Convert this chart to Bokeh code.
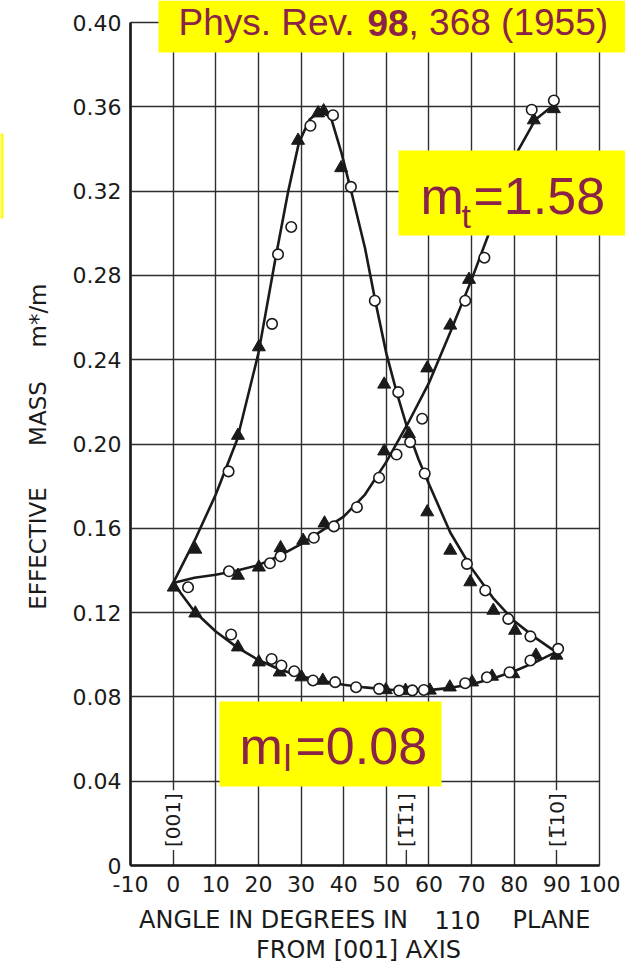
import math
from bokeh.plotting import figure
from bokeh.models import FixedTicker, Label, BoxAnnotation, LinearAxis, Grid, Range1d
from bokeh.embed import file_html
from bokeh.resources import INLINE

# ---------------- data ----------------
x_ticks = [-10, 0, 10, 20, 30, 40, 50, 60, 70, 80, 90, 100]
x_tick_labels = ["-10", "0", "10", "20", "30", "40", "50", "60", "70", "80", "90", "100"]
y_ticks = [0, 0.04, 0.08, 0.12, 0.16, 0.20, 0.24, 0.28, 0.32, 0.36, 0.40]
y_tick_labels = ["0", "0.04", "0.08", "0.12", "0.16", "0.20", "0.24", "0.28", "0.32", "0.36", "0.40"]

# smooth curves drawn through the measurements
peak_x = [0, 5, 10, 15, 20, 24, 27, 29.5, 32, 34.5, 37, 39.5, 42, 45, 47.5, 50, 52.5,
          55, 57.5, 60, 65, 70, 75, 80, 85, 90]
peak_y = [0.134, 0.154, 0.176, 0.202, 0.243, 0.288, 0.320, 0.343, 0.354, 0.358, 0.355,
          0.338, 0.318, 0.293, 0.267, 0.243, 0.224, 0.207, 0.193, 0.181, 0.158, 0.141,
          0.127, 0.116, 0.108, 0.101]

rise_x = [0, 5, 10, 15, 20, 25, 30, 35, 40, 45, 50, 55, 60, 65, 70, 75, 80, 85, 90]
rise_y = [0.134, 0.1365, 0.138, 0.140, 0.1425, 0.147, 0.1525, 0.159, 0.1655, 0.176,
          0.1915, 0.2095, 0.229, 0.253, 0.278, 0.305, 0.336, 0.354, 0.362]

low_x = [0, 5, 10, 15, 20, 25, 30, 35, 40, 45, 50, 55, 60, 65, 70, 75, 80, 85, 90]
low_y = [0.134, 0.1205, 0.111, 0.1035, 0.0975, 0.093, 0.0898, 0.0875, 0.0858, 0.0845,
         0.0835, 0.0829, 0.0832, 0.0843, 0.086, 0.0887, 0.0922, 0.0965, 0.1015]

# open circles
circ_x = [3.5, 13.0, 23.2, 24.6, 27.7, 32.2, 37.5, 41.7, 47.3, 52.8, 55.6, 59.0, 68.9,
          73.2, 78.6, 83.8, 90.3,
          13.1, 22.7, 25.2, 33.0, 37.7, 43.1, 48.3, 52.4, 58.4, 68.5, 73.0, 84.1, 89.3,
          13.6, 23.1, 25.4, 28.4, 32.8, 38.0, 42.9, 48.3, 53.0, 56.1, 58.8, 68.5, 73.6,
          78.9, 83.8]
circ_y = [0.132, 0.187, 0.257, 0.290, 0.303, 0.351, 0.356, 0.322, 0.268, 0.2246, 0.2009,
          0.186, 0.1431, 0.1305, 0.117, 0.1087, 0.1028,
          0.1396, 0.1434, 0.1467, 0.1555, 0.1609, 0.170, 0.184, 0.195, 0.212, 0.268,
          0.2884, 0.3586, 0.363,
          0.1096, 0.098, 0.0949, 0.0922, 0.0878, 0.0870, 0.0846, 0.0838, 0.083, 0.0831,
          0.0833, 0.0865, 0.0893, 0.0917, 0.0973]

# filled triangles
tri_x = [0.15, 5.2, 15.2, 20.1, 29.3, 34.0, 35.3, 39.4, 49.5, 59.6, 65.0, 69.7, 75.1,
         80.2, 89.9,
         15.2, 20.1, 25.2, 30.5, 35.5, 49.5, 55.3, 59.6, 65.0, 69.4, 84.6, 89.3,
         5.2, 15.2, 20.1, 25.0, 30.1, 35.1, 49.9, 54.5, 60.2, 64.9, 70.1, 74.8, 79.8,
         85.1]
tri_y = [0.132, 0.150, 0.204, 0.246, 0.344, 0.357, 0.358, 0.331, 0.2283, 0.1677, 0.1495,
         0.1345, 0.1210, 0.1115, 0.0997,
         0.1376, 0.1415, 0.1507, 0.1542, 0.1624, 0.1966, 0.2048, 0.236, 0.2563, 0.278,
         0.3537, 0.359,
         0.1197, 0.1036, 0.0965, 0.0917, 0.0894, 0.0878, 0.0833, 0.083, 0.0831, 0.0846,
         0.087, 0.0897, 0.0909, 0.0997]

# crystal direction labels along the bottom
dir_x = [0, 54.7, 90]
dir_labels = ["[001]", "[1\u03051\u03051]", "[1\u030510]"]
dir_y = 0.0215

# ---------------- layout ----------------
CW, CH = 625, 966
FL, FR, FT, FB = 130, 599, 22, 865      # where the data box sits, canvas pixels
XMIN, XMAX, YMIN, YMAX = -10, 100, 0, 0.40
kx = (XMAX - XMIN) / (FR - FL)
ky = (YMAX - YMIN) / (FB - FT)
INK = "#1a1a1a"
GRIDC = "#2e2e2e"
MAROON = "#8b2349"
YELLOW = "#ffff00"


def sx(X):
    return X


def sy(Y):
    return CH - Y


# the frame fills the whole canvas so that call-outs beyond the data box are not clipped
p = figure(width=CW, height=CH,
           x_range=Range1d(XMIN - FL * kx, XMAX + (CW - FR) * kx),
           y_range=Range1d(YMIN - (CH - FB) * ky, YMAX + FT * ky),
           x_axis_location=None, y_axis_location=None, min_border=0,
           output_backend="svg", toolbar_location=None)
p.background_fill_color = "white"
p.border_fill_color = "white"
p.outline_line_color = None
for g in list(p.center):
    if isinstance(g, Grid):
        p.center.remove(g)

xt = FixedTicker(ticks=x_ticks)
yt = FixedTicker(ticks=y_ticks)

if "cross_bounds" in Grid.properties():
    gx = Grid(dimension=0, ticker=xt, cross_bounds=(YMIN, YMAX),
              grid_line_color=GRIDC, grid_line_width=1.4)
    gy = Grid(dimension=1, ticker=yt, cross_bounds=(XMIN, XMAX),
              grid_line_color=GRIDC, grid_line_width=1.4)
    p.add_layout(gx, "center")
    p.add_layout(gy, "center")
else:
    p.segment(x0=x_ticks, y0=[YMIN] * len(x_ticks), x1=x_ticks, y1=[YMAX] * len(x_ticks),
              line_color=GRIDC, line_width=1.4)
    p.segment(x0=[XMIN] * len(y_ticks), y0=y_ticks, x1=[XMAX] * len(y_ticks), y1=y_ticks,
              line_color=GRIDC, line_width=1.4)

xaxis = LinearAxis(fixed_location=YMIN, ticker=xt, bounds=(XMIN, XMAX),
                   major_label_overrides={t: s for t, s in zip(x_ticks, x_tick_labels)},
                   major_label_standoff=10)
yaxis = LinearAxis(fixed_location=XMIN, ticker=yt, bounds=(YMIN, YMAX),
                   major_label_overrides={t: s for t, s in zip(y_ticks, y_tick_labels)},
                   major_label_standoff=9)
for ax in (xaxis, yaxis):
    ax.axis_line_color = INK
    ax.axis_line_width = 2.6
    ax.major_tick_in = 0
    ax.major_tick_out = 0
    ax.minor_tick_in = 0
    ax.minor_tick_out = 0
    ax.major_tick_line_color = None
    ax.minor_tick_line_color = None
    ax.major_label_text_font = "DejaVu Sans"
    ax.major_label_text_font_size = "22px"
    ax.major_label_text_color = INK
p.add_layout(xaxis, "below")
p.add_layout(yaxis, "left")

# ---------------- curves and points ----------------
for xs, ys in ((peak_x, peak_y), (rise_x, rise_y), (low_x, low_y)):
    p.line(xs, ys, line_color=INK, line_width=2.6)

p.segment(x0=[dir_x[1]], y0=[YMIN], x1=[dir_x[1]], y1=[0.012], line_color=GRIDC,
          line_width=1.4)

p.scatter(tri_x, tri_y, marker="triangle", size=13, fill_color=INK, line_color=INK)
p.scatter(circ_x, circ_y, marker="circle", size=10.5, fill_color="white",
          line_color=INK, line_width=1.6)

for xv, s in zip(dir_x, dir_labels):
    p.add_layout(Label(x=xv, y=dir_y, text=s, angle=math.pi / 2,
                       text_font="DejaVu Sans", text_font_size="20px",
                       text_color=INK, text_align="center", text_baseline="middle",
                       background_fill_color="white", padding=3))


# ---------------- texts (X, Y = centre of the text line in canvas pixels) ----------------
def txt(s, X, Y, size, color=INK, font="DejaVu Sans", bold=False, align="left",
        angle=0.0, level="overlay"):
    p.add_layout(Label(x=sx(X), y=sy(Y), x_units="screen", y_units="screen", text=s,
                       text_font=font, text_font_size=f"{size}px", text_color=color,
                       text_font_style="bold" if bold else "normal",
                       text_align=align, text_baseline="middle", angle=angle,
                       level=level))


txt("EFFECTIVE", 37.5, 548, 23, align="center", angle=math.pi / 2)
txt("MASS", 37.5, 413, 23, align="center", angle=math.pi / 2)
txt("m*/m", 37.0, 315, 23, align="center", angle=math.pi / 2)

txt("ANGLE IN DEGREES IN", 273, 919, 24, align="center")
txt("110", 457, 919, 24, align="center")
txt("PLANE", 551, 919, 24, align="center")
txt("FROM [001] AXIS", 358, 949, 24, align="center")


# ---------------- yellow call-outs ----------------
def ybox(X0, Y0, X1, Y1):
    p.add_layout(BoxAnnotation(left=sx(X0), right=sx(X1), top=sy(Y0), bottom=sy(Y1),
                               left_units="screen", right_units="screen",
                               top_units="screen", bottom_units="screen",
                               fill_color=YELLOW, fill_alpha=1.0, line_color=None,
                               level="overlay"))


ybox(158, 0, CW, 52)
ybox(398, 150, CW, 235)
ybox(219, 701, 441, 786)
ybox(0, 133, 3, 218)

F = "Liberation Sans"
txt("Phys. Rev. ", 178, 22, 37, color=MAROON, font=F)
txt("98", 367, 22, 37, color=MAROON, font=F, bold=True)
txt(", 368 (1955)", 408, 22, 37, color=MAROON, font=F)

txt("m", 420, 195, 52, color=MAROON, font=F)
txt("t", 461, 215, 34, color=MAROON, font=F)
txt("=1.58", 473, 195, 52, color=MAROON, font=F)

txt("m", 239, 745, 52, color=MAROON, font=F)
txt("l", 283, 758, 36, color=MAROON, font=F)
txt("=0.08", 295, 745, 52, color=MAROON, font=F)

open("out.html", "w").write(file_html(p, INLINE))
